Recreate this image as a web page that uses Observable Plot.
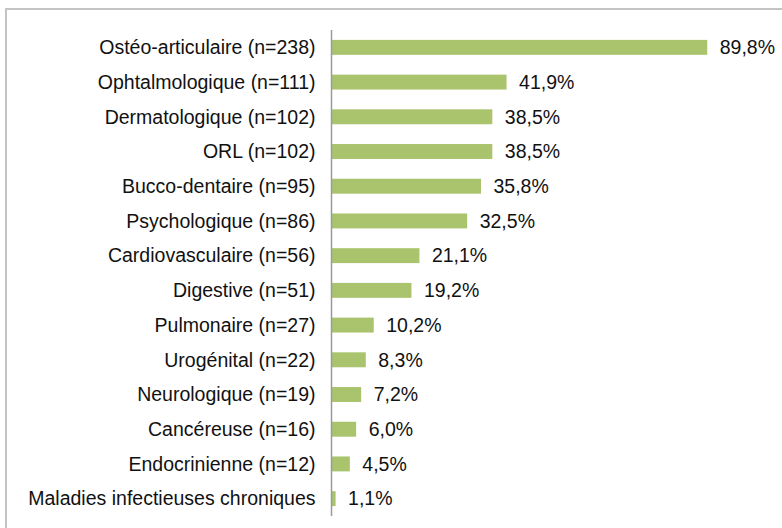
<!DOCTYPE html>
<html>
<head>
<meta charset="utf-8">
<script src="https://cdn.jsdelivr.net/npm/d3@7"></script>
<script src="https://cdn.jsdelivr.net/npm/@observablehq/plot@0.6"></script>
<style>
  html, body { margin: 0; padding: 0; background: #fff; width: 782px; height: 528px; overflow: hidden; }
  #frame { position: absolute; left: 5px; top: 8px; width: 800px; height: 560px; border: 2px solid #c4c4c4; box-sizing: border-box; }
  #chart { position: absolute; left: 0; top: 0; }
</style>
</head>
<body>
<div id="frame"></div>
<div id="chart"></div>
<script>
const categories = [
  "Ostéo-articulaire (n=238)",
  "Ophtalmologique (n=111)",
  "Dermatologique (n=102)",
  "ORL (n=102)",
  "Bucco-dentaire (n=95)",
  "Psychologique (n=86)",
  "Cardiovasculaire (n=56)",
  "Digestive (n=51)",
  "Pulmonaire (n=27)",
  "Urogénital (n=22)",
  "Neurologique (n=19)",
  "Cancéreuse (n=16)",
  "Endocrinienne (n=12)",
  "Maladies infectieuses chroniques"
];
const values = [89.8, 41.9, 38.5, 38.5, 35.8, 32.5, 21.1, 19.2, 10.2, 8.3, 7.2, 6.0, 4.5, 1.1];

const data = categories.map((c, i) => ({category: c, value: values[i]}));
const fmt = v => v.toFixed(1).replace(".", ",") + "%";

const chart = Plot.plot({
  width: 782,
  height: 528,
  marginLeft: 331,
  marginRight: 32,
  marginTop: 30,
  marginBottom: 12,
  style: {fontFamily: "'Liberation Sans', Arial, sans-serif", fontSize: "19.5px", color: "#111", background: "transparent"},
  x: {domain: [0, 100], axis: null},
  y: {domain: categories, paddingInner: 0.57, paddingOuter: 0.285, round: false, label: null},
  marks: [
    Plot.barX(data, {x: "value", y: "category", fill: "#a9c46d"}),
    Plot.text(data, {x: "value", y: "category", text: d => fmt(d.value), textAnchor: "start", dx: 12, fill: "#111", fontSize: 19.5}),
    Plot.axisY({tickSize: 0, tickPadding: 16, fontSize: 19.5, label: null, fill: "#111"}),
    Plot.ruleX([0], {stroke: "#9a9a9a", strokeWidth: 1.5})
  ]
});
document.getElementById("chart").appendChild(chart);
</script>
</body>
</html>
